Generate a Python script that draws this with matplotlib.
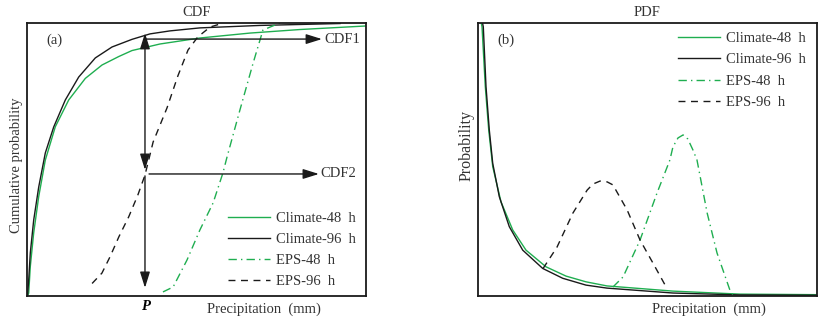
import matplotlib.pyplot as plt

plt.rcParams['font.family'] = ['Liberation Serif', 'DejaVu Serif']
plt.rcParams['font.size'] = 10.5

GREEN = '#1fae50'
BLACK = '#1a1a1a'
TEXT = '#333333'

# ---- panel (a): CDF curves (x: 0-100 arbitrary precipitation, y: 0-1) ----
cdf_clim96_x = [0.15, 0.50, 0.97, 1.97, 3.45, 5.40, 7.87, 11.30, 15.25, 20.15, 25.07, 30.97, 36.28, 42.18,
                51.03, 68.73, 92.33]
cdf_clim96_y = [0, 0.059, 0.158, 0.278, 0.399, 0.524, 0.619, 0.718, 0.802, 0.872, 0.912, 0.940, 0.960, 0.971,
                0.982, 0.991, 0.998]
cdf_clim48_x = [0.15, 0.50, 0.97, 1.97, 3.45, 5.40, 8.35, 12.30, 17.20, 22.12, 27.05, 30.97, 39.23, 51.03,
                65.78, 80.53, 100]
cdf_clim48_y = [0, 0.011, 0.108, 0.231, 0.364, 0.498, 0.620, 0.718, 0.797, 0.846, 0.877, 0.899, 0.923, 0.945,
                0.963, 0.976, 0.989]
cdf_eps96_x = [19.2, 22.1, 24.5, 27.1, 30.0, 32.7, 34.8, 37.2, 41.3, 44.5, 47.5, 50.4, 54.0, 56.9]
cdf_eps96_y = [0.046, 0.084, 0.144, 0.217, 0.290, 0.370, 0.443, 0.564, 0.689, 0.806, 0.901, 0.949, 0.985, 0.996]
cdf_eps48_x = [40.1, 43.1, 47.2, 51.0, 54.9, 57.8, 59.0, 62.8, 66.7, 69.6, 74.6]
cdf_eps48_y = [0.015, 0.033, 0.132, 0.242, 0.341, 0.451, 0.509, 0.681, 0.853, 0.974, 1.0]

# threshold P and the two probabilities
p_value = 34.8
cdf1_level = 0.941
cdf2_level = 0.447

# ---- panel (b): PDF curves ----
pdf_clim96_x = [1.33, 1.56, 2.36, 3.33, 4.34, 6.28, 9.23, 13.19, 19.09, 24.99, 31.86, 38.05, 57.52, 77.29, 100]
pdf_clim96_y = [1.0, 0.986, 0.767, 0.608, 0.486, 0.364, 0.254, 0.168, 0.101, 0.065, 0.040, 0.029, 0.011, 0.004, 0.003]
pdf_clim48_x = [0.97, 1.18, 2.15, 3.16, 4.34, 6.78, 10.24, 14.16, 20.06, 25.96, 31.86, 38.05, 57.52, 77.29, 100]
pdf_clim48_y = [1.0, 0.986, 0.767, 0.608, 0.474, 0.345, 0.242, 0.168, 0.107, 0.073, 0.052, 0.037, 0.018, 0.007, 0.005]
pdf_eps96_x = [19.2, 23.3, 28.0, 32.2, 33.9, 36.0, 38.1, 39.8, 44.0, 47.8, 51.6, 55.2]
pdf_eps96_y = [0.101, 0.179, 0.304, 0.388, 0.410, 0.421, 0.418, 0.407, 0.315, 0.205, 0.121, 0.040]
pdf_eps48_x = [39.8, 42.8, 47.8, 52.8, 56.6, 57.5, 59.0, 60.5, 61.9, 63.4, 64.6, 67.6, 70.5, 74.3, 75.2]
pdf_eps48_y = [0.033, 0.070, 0.205, 0.377, 0.498, 0.546, 0.579, 0.590, 0.575, 0.535, 0.498, 0.304, 0.158, 0.022,
               0.004]

labels = ['Climate-48  h', 'Climate-96  h', 'EPS-48  h', 'EPS-96  h']

fig = plt.figure(figsize=(8.26, 3.19), dpi=100)
ax1 = fig.add_axes([0.0327, 0.072, 0.4104, 0.856])
ax2 = fig.add_axes([0.5787, 0.072, 0.4104, 0.856])

for ax in (ax1, ax2):
    ax.set_xlim(0, 100)
    ax.set_ylim(0, 1)
    ax.set_xticks([])
    ax.set_yticks([])
    for s in ax.spines.values():
        s.set_linewidth(1.3)
        s.set_color(BLACK)

lw = 1.0
dash = (0, (5, 4))
dashdot = (0, (6, 3, 1, 3))

# ---- (a) ----
ax1.plot(cdf_clim48_x, cdf_clim48_y, color=GREEN, lw=lw, label=labels[0])
ax1.plot(cdf_clim96_x, cdf_clim96_y, color=BLACK, lw=lw, label=labels[1])
ax1.plot(cdf_eps48_x, cdf_eps48_y, color=GREEN, lw=lw, ls=dashdot, label=labels[2])
ax1.plot(cdf_eps96_x, cdf_eps96_y, color=BLACK, lw=lw, ls=dash, label=labels[3])

arrow_kw = dict(color=BLACK, lw=1.0, shrinkA=0, shrinkB=0, mutation_scale=12)
head = ',head_length=0.8,head_width=0.25'
ax1.annotate('', xy=(p_value, 0.963), xytext=(p_value, 0.462),
             arrowprops=dict(arrowstyle='<|-|>' + head, **arrow_kw))
ax1.annotate('', xy=(p_value, 0.03), xytext=(p_value, 0.44),
             arrowprops=dict(arrowstyle='-|>' + head, **arrow_kw))
ax1.annotate('', xy=(87.0, cdf1_level), xytext=(p_value, cdf1_level),
             arrowprops=dict(arrowstyle='-|>' + head, **arrow_kw))
ax1.annotate('', xy=(86.1, cdf2_level), xytext=(36.0, cdf2_level),
             arrowprops=dict(arrowstyle='-|>' + head, **arrow_kw))
ax1.text(87.6, cdf1_level, 'CDF1', va='center', ha='left', color=TEXT)
ax1.text(86.6, cdf2_level, 'CDF2', va='center', ha='left', color=TEXT)
ax1.text(0.058, 0.935, '(a)', transform=ax1.transAxes, va='center', ha='left', color=TEXT)
ax1.text(p_value, -0.037, 'P', ha='center', va='center', style='italic', fontweight='bold')

ax1.set_title('CDF', fontsize=10.5, pad=5, color=TEXT)
ax1.text(0.70, -0.048, 'Precipitation  (mm)', transform=ax1.transAxes, ha='center', va='center', color=TEXT)
ax1.text(-0.03, 0.48, 'Cumulative probability', transform=ax1.transAxes, rotation=90,
         ha='center', va='center', color=TEXT)

ax1.legend(loc='lower left', bbox_to_anchor=(0.593, 0.028), frameon=False, borderpad=0, borderaxespad=0,
           handlelength=2.9, handletextpad=0.4, labelspacing=0.55, labelcolor=TEXT)

# ---- (b) ----
ax2.plot(pdf_clim48_x, pdf_clim48_y, color=GREEN, lw=lw, label=labels[0])
ax2.plot(pdf_clim96_x, pdf_clim96_y, color=BLACK, lw=lw, label=labels[1])
ax2.plot(pdf_eps48_x, pdf_eps48_y, color=GREEN, lw=lw, ls=dashdot, label=labels[2])
ax2.plot(pdf_eps96_x, pdf_eps96_y, color=BLACK, lw=lw, ls=dash, label=labels[3])

ax2.text(0.058, 0.935, '(b)', transform=ax2.transAxes, va='center', ha='left', color=TEXT)
ax2.set_title('PDF', fontsize=10.5, pad=5, color=TEXT)
ax2.text(0.68, -0.048, 'Precipitation  (mm)', transform=ax2.transAxes, ha='center', va='center', color=TEXT)
ax2.text(-0.034, 0.55, 'Probability', transform=ax2.transAxes, rotation=90,
         ha='center', va='center', color=TEXT, fontsize=11.5)

ax2.legend(loc='upper left', bbox_to_anchor=(0.59, 0.967), frameon=False, borderpad=0, borderaxespad=0,
           handlelength=2.9, handletextpad=0.4, labelspacing=0.55, labelcolor=TEXT)

fig.savefig('out.png', dpi=100)
